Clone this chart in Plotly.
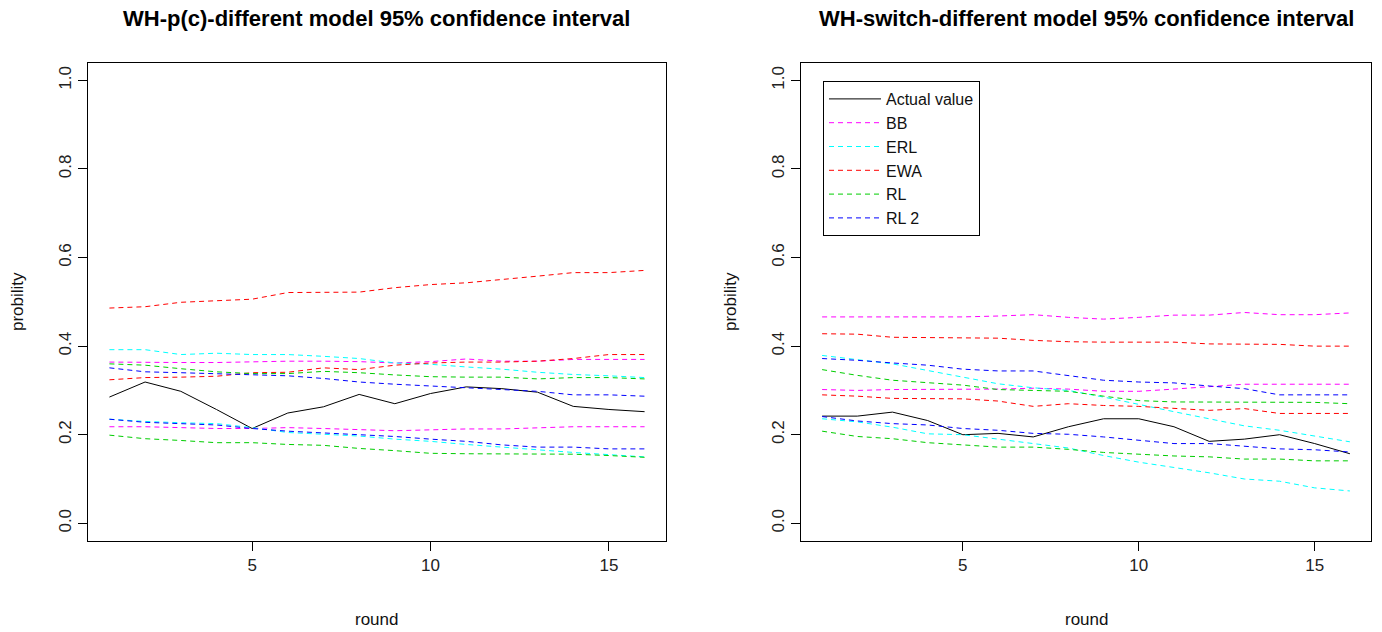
import plotly.graph_objects as go

rounds = list(range(1, 17))
models = ["BB", "ERL", "EWA", "RL", "RL 2"]
model_colors = ["#FF00FF", "#00FFFF", "#FF0000", "#00CD00", "#0000FF"]

titles = ["WH-p(c)-different model 95% confidence interval",
          "WH-switch-different model 95% confidence interval"]
y_ticks = [0.0, 0.2, 0.4, 0.6, 0.8, 1.0]
x_ticks = [5, 10, 15]

# ---- left panel: WH-p(c) ----
L_actual = [0.285, 0.319, 0.298, 0.257, 0.214, 0.249, 0.263, 0.291, 0.270, 0.293, 0.308, 0.304, 0.296, 0.264, 0.257, 0.252]
L_bb_hi = [0.364, 0.363, 0.363, 0.363, 0.365, 0.366, 0.366, 0.365, 0.362, 0.365, 0.371, 0.366, 0.366, 0.370, 0.370, 0.370]
L_bb_lo = [0.218, 0.218, 0.216, 0.214, 0.214, 0.216, 0.214, 0.212, 0.209, 0.211, 0.213, 0.213, 0.216, 0.218, 0.218, 0.218]
L_erl_hi = [0.392, 0.392, 0.381, 0.384, 0.381, 0.381, 0.377, 0.372, 0.362, 0.359, 0.353, 0.348, 0.341, 0.336, 0.333, 0.329]
L_erl_lo = [0.235, 0.230, 0.227, 0.225, 0.216, 0.205, 0.201, 0.197, 0.190, 0.185, 0.178, 0.172, 0.165, 0.160, 0.155, 0.150]
L_ewa_hi = [0.486, 0.489, 0.499, 0.502, 0.506, 0.521, 0.522, 0.522, 0.532, 0.539, 0.543, 0.550, 0.558, 0.566, 0.566, 0.571]
L_ewa_lo = [0.324, 0.329, 0.330, 0.332, 0.340, 0.341, 0.351, 0.347, 0.357, 0.362, 0.364, 0.364, 0.366, 0.372, 0.381, 0.381]
L_rl_hi = [0.360, 0.357, 0.349, 0.342, 0.338, 0.338, 0.343, 0.340, 0.335, 0.331, 0.330, 0.330, 0.326, 0.329, 0.329, 0.326]
L_rl_lo = [0.199, 0.191, 0.187, 0.182, 0.182, 0.178, 0.176, 0.169, 0.164, 0.158, 0.157, 0.157, 0.157, 0.156, 0.153, 0.149]
L_rl2_hi = [0.351, 0.342, 0.340, 0.338, 0.336, 0.333, 0.327, 0.319, 0.314, 0.310, 0.305, 0.302, 0.298, 0.290, 0.290, 0.287]
L_rl2_lo = [0.235, 0.228, 0.225, 0.222, 0.214, 0.208, 0.204, 0.200, 0.196, 0.190, 0.185, 0.177, 0.172, 0.172, 0.168, 0.168]

# ---- right panel: WH-switch ----
R_actual = [0.242, 0.242, 0.251, 0.232, 0.200, 0.203, 0.195, 0.218, 0.236, 0.236, 0.218, 0.185, 0.190, 0.200, 0.180, 0.157]
R_bb_hi = [0.466, 0.466, 0.466, 0.466, 0.466, 0.468, 0.471, 0.465, 0.461, 0.465, 0.470, 0.470, 0.476, 0.471, 0.471, 0.475]
R_bb_lo = [0.302, 0.300, 0.302, 0.302, 0.302, 0.303, 0.305, 0.303, 0.298, 0.298, 0.303, 0.309, 0.314, 0.314, 0.314, 0.314]
R_erl_hi = [0.379, 0.370, 0.360, 0.345, 0.330, 0.315, 0.306, 0.300, 0.285, 0.268, 0.252, 0.236, 0.220, 0.210, 0.197, 0.184]
R_erl_lo = [0.236, 0.229, 0.217, 0.202, 0.200, 0.190, 0.181, 0.170, 0.153, 0.138, 0.126, 0.114, 0.100, 0.095, 0.080, 0.073]
R_ewa_hi = [0.428, 0.427, 0.420, 0.419, 0.419, 0.418, 0.413, 0.410, 0.409, 0.409, 0.409, 0.405, 0.404, 0.404, 0.400, 0.400]
R_ewa_lo = [0.290, 0.287, 0.282, 0.281, 0.281, 0.276, 0.264, 0.270, 0.266, 0.264, 0.259, 0.255, 0.259, 0.248, 0.248, 0.248]
R_rl_hi = [0.347, 0.334, 0.323, 0.317, 0.312, 0.302, 0.300, 0.298, 0.287, 0.277, 0.274, 0.274, 0.274, 0.274, 0.273, 0.270]
R_rl_lo = [0.208, 0.196, 0.191, 0.182, 0.177, 0.172, 0.172, 0.167, 0.160, 0.156, 0.152, 0.150, 0.145, 0.145, 0.141, 0.141]
R_rl2_hi = [0.372, 0.368, 0.362, 0.357, 0.348, 0.344, 0.344, 0.334, 0.323, 0.319, 0.317, 0.310, 0.304, 0.290, 0.290, 0.290]
R_rl2_lo = [0.241, 0.231, 0.225, 0.222, 0.214, 0.210, 0.203, 0.201, 0.195, 0.187, 0.180, 0.180, 0.174, 0.168, 0.166, 0.161]

panels = [
    dict(actual=L_actual,
         bands=[(L_bb_hi, L_bb_lo), (L_erl_hi, L_erl_lo), (L_ewa_hi, L_ewa_lo),
                (L_rl_hi, L_rl_lo), (L_rl2_hi, L_rl2_lo)],
         xa="x", ya="y", legend=False),
    dict(actual=R_actual,
         bands=[(R_bb_hi, R_bb_lo), (R_erl_hi, R_erl_lo), (R_ewa_hi, R_ewa_lo),
                (R_rl_hi, R_rl_lo), (R_rl2_hi, R_rl2_lo)],
         xa="x2", ya="y2", legend=True),
]

FONT = "Liberation Sans, Arial, sans-serif"
DASH = "5px,4px"

fig = go.Figure()
for p in panels:
    fig.add_trace(go.Scatter(x=rounds, y=p["actual"], mode="lines", name="Actual value",
                             line=dict(color="black", width=1), xaxis=p["xa"], yaxis=p["ya"],
                             showlegend=p["legend"], legendgroup="Actual value"))
    for name, col, (hi, lo) in zip(models, model_colors, p["bands"]):
        fig.add_trace(go.Scatter(x=rounds, y=hi, mode="lines", name=name,
                                 line=dict(color=col, width=1, dash=DASH),
                                 xaxis=p["xa"], yaxis=p["ya"],
                                 showlegend=p["legend"], legendgroup=name))
        fig.add_trace(go.Scatter(x=rounds, y=lo, mode="lines", name=name,
                                 line=dict(color=col, width=1, dash=DASH),
                                 xaxis=p["xa"], yaxis=p["ya"],
                                 showlegend=False, legendgroup=name))

W, H = 1382, 632
left_dom = [88 / W, 666 / W]
right_dom = [801 / W, 1371 / W]
y_dom = [1 - 541 / H, 1 - 62.7 / H]

axis_common = dict(showline=True, linecolor="black", linewidth=1, mirror=True,
                   ticks="outside", ticklen=9, tickcolor="black", tickwidth=1,
                   showgrid=False, zeroline=False,
                   tickfont=dict(family=FONT, size=17, color="#222222"))

fig.update_layout(
    width=W, height=H,
    margin=dict(l=0, r=0, t=0, b=0),
    paper_bgcolor="white", plot_bgcolor="white",
    font=dict(family=FONT, color="black"),
    hovermode=False,
    xaxis=dict(domain=left_dom, range=[0.4, 16.6], tickvals=x_ticks, anchor="y", **axis_common),
    yaxis=dict(domain=y_dom, range=[-0.04, 1.04], tickvals=y_ticks, tickformat=".1f",
               tickangle=-90, anchor="x", **axis_common),
    xaxis2=dict(domain=right_dom, range=[0.4, 16.6], tickvals=x_ticks, anchor="y2", **axis_common),
    yaxis2=dict(domain=y_dom, range=[-0.04, 1.04], tickvals=y_ticks, tickformat=".1f",
                tickangle=-90, anchor="x2", **axis_common),
    legend=dict(x=823 / W, y=1 - 81 / H, xanchor="left", yanchor="top",
                bordercolor="black", borderwidth=1, bgcolor="white",
                font=dict(family=FONT, size=16, color="#111111"),
                itemwidth=52,
                tracegroupgap=0, traceorder="grouped"),
    showlegend=True,
)

annotations = []
for dom, title in zip([left_dom, right_dom], titles):
    cx = (dom[0] + dom[1]) / 2
    annotations.append(dict(text="<b>" + title + "</b>", x=cx, y=1 - 18 / H, xref="paper", yref="paper",
                            xanchor="center", yanchor="middle", showarrow=False,
                            font=dict(family=FONT, size=22, color="black")))
    annotations.append(dict(text="round", x=cx, y=1 - 619 / H, xref="paper", yref="paper",
                            xanchor="center", yanchor="middle", showarrow=False,
                            font=dict(family=FONT, size=17, color="#111111")))
for xpx in [17, 730]:
    annotations.append(dict(text="probility", x=xpx / W, y=1 - 302 / H, xref="paper", yref="paper",
                            xanchor="center", yanchor="middle", showarrow=False, textangle=-90,
                            font=dict(family=FONT, size=17, color="#111111")))
fig.update_layout(annotations=annotations)

fig.write_html("out.html", config={"displayModeBar": False, "staticPlot": True},
               post_script="document.body.style.margin='0';document.body.style.overflow='hidden';")
